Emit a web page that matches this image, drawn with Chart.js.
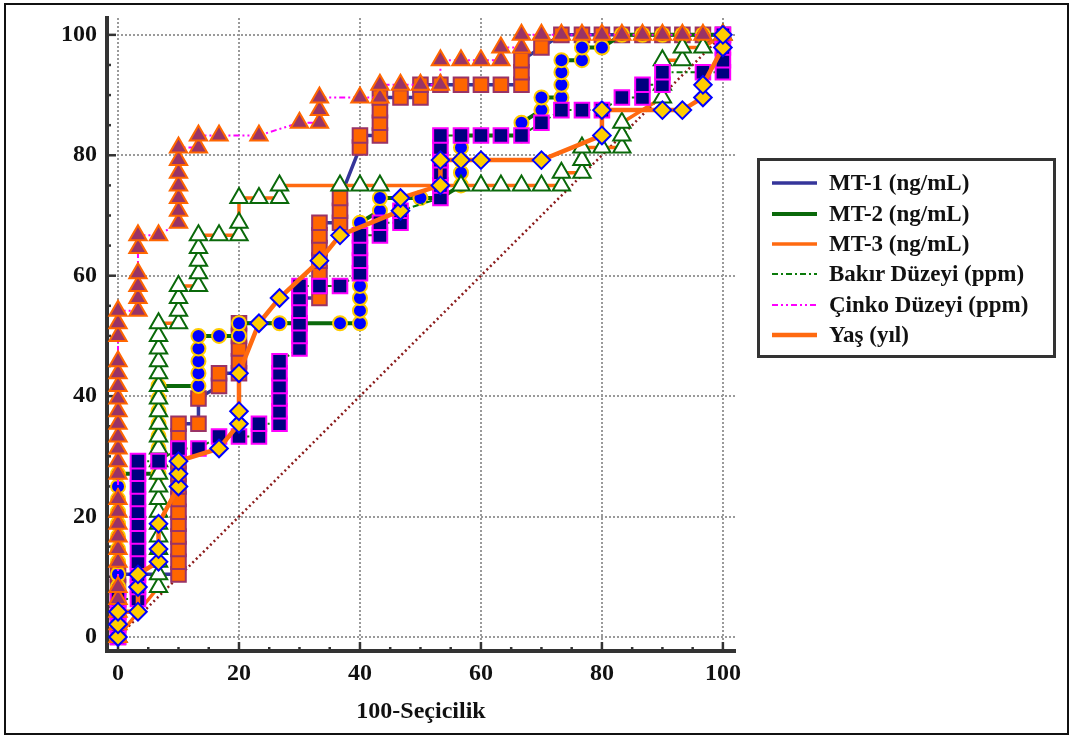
<!DOCTYPE html>
<html>
<head>
<meta charset="utf-8">
<script src="https://cdn.jsdelivr.net/npm/chart.js@4.4.1/dist/chart.umd.min.js"></script>
<style>
  body { margin: 0; background: #fff; }
  #cadre { position: relative; width: 1073px; height: 738px; }
  #bord { position: absolute; left: 4px; top: 3px; width: 1065px; height: 732px; border: 2px solid #111; box-sizing: border-box; pointer-events: none; }
  #roc { position: absolute; left: 0; top: 0; }
  #legende { position: absolute; left: 757px; top: 158px; width: 299px; height: 200px; border: 3px solid #333; box-sizing: border-box; padding-top: 7px; }
  .ligne { height: 30.4px; display: flex; align-items: center; font: bold 23px "Liberation Serif", serif; color: #111; }
  .ligne svg { margin-left: 12px; margin-right: 12px; }
</style>
</head>
<body>
<div id="cadre">
  <canvas id="roc" width="1073" height="738"></canvas>
  <div id="legende"></div>
  <div id="bord"></div>
</div>
<script>
// libellés
const noms = ["MT-1 (ng/mL)", "MT-2 (ng/mL)", "MT-3 (ng/mL)", "Bakır Düzeyi (ppm)", "Çinko Düzeyi (ppm)", "Yaş (yıl)"]
const graduation = [0, 5, 10, 15, 20, 25, 30, 35, 40, 45, 50, 55, 60, 65, 70, 75, 80, 85, 90, 95, 100]

// MT-1
const mt1X = [0, 0, 0, 0, 0, 0, 10, 10, 10, 10, 10, 10, 10, 10, 10, 10, 10, 10, 10, 13.3, 13.3, 16.7, 16.7, 20, 20, 20, 20, 20, 30, 30, 33.3, 33.3, 33.3, 33.3, 33.3, 33.3, 33.3, 36.7, 36.7, 36.7, 40, 40, 43.3, 43.3, 43.3, 43.3, 46.7, 50, 50, 53.3, 56.7, 60, 63.3, 66.7, 66.7, 66.7, 70, 73.3, 76.7, 80, 83.3, 86.7, 90, 93.3, 96.7, 100]
const mt1Y = [0, 2.1, 4.2, 6.3, 8.3, 10.4, 10.4, 12.5, 14.6, 16.7, 18.8, 20.8, 22.9, 25, 27.1, 29.2, 31.3, 33.3, 35.4, 35.4, 39.6, 41.7, 43.8, 43.8, 45.8, 47.9, 50, 52.1, 52.1, 56.3, 56.3, 58.3, 60.4, 62.5, 64.6, 66.7, 68.8, 68.8, 70.8, 72.9, 81.3, 83.3, 83.3, 85.4, 87.5, 89.6, 89.6, 89.6, 91.7, 91.7, 91.7, 91.7, 91.7, 91.7, 93.8, 95.8, 97.9, 100, 100, 100, 100, 100, 100, 100, 100, 100]

// MT-2
const mt2X = [0, 0, 0, 0, 0, 0, 0, 0, 0, 0, 0, 0, 6.7, 6.7, 6.7, 6.7, 6.7, 6.7, 6.7, 6.7, 13.3, 13.3, 13.3, 13.3, 13.3, 16.7, 20, 20, 26.7, 36.7, 40, 40, 40, 40, 40, 40, 40, 40, 40, 43.3, 43.3, 50, 53.3, 56.7, 56.7, 56.7, 56.7, 56.7, 66.7, 66.7, 70, 70, 73.3, 73.3, 73.3, 73.3, 76.7, 76.7, 80, 83.3, 86.7, 90, 93.3, 96.7, 100]
const mt2Y = [0, 4.2, 8.3, 10.4, 12.5, 14.6, 16.7, 18.8, 20.8, 22.9, 25, 27.1, 27.1, 29.2, 31.3, 33.3, 35.4, 37.5, 39.6, 41.7, 41.7, 43.8, 45.8, 47.9, 50, 50, 50, 52.1, 52.1, 52.1, 52.1, 54.2, 56.3, 58.3, 60.4, 62.5, 64.6, 66.7, 68.8, 70.8, 72.9, 72.9, 72.9, 75, 77.1, 79.2, 81.3, 83.3, 83.3, 85.4, 87.5, 89.6, 89.6, 91.7, 93.8, 95.8, 95.8, 97.9, 97.9, 100, 100, 100, 100, 100, 100]

// MT-3
const mt3X = [0, 6.7, 6.7, 6.7, 6.7, 6.7, 6.7, 6.7, 6.7, 6.7, 6.7, 6.7, 6.7, 6.7, 6.7, 6.7, 6.7, 6.7, 6.7, 6.7, 6.7, 6.7, 6.7, 10, 10, 10, 10, 13.3, 13.3, 13.3, 13.3, 13.3, 16.7, 20, 20, 20, 23.3, 26.7, 26.7, 36.7, 40, 43.3, 56.7, 60, 63.3, 66.7, 70, 73.3, 73.3, 76.7, 76.7, 76.7, 80, 83.3, 83.3, 83.3, 90, 90, 90, 93.3, 93.3, 96.7, 100]
const mt3Y = [0, 8.3, 10.4, 12.5, 14.6, 16.7, 18.8, 20.8, 22.9, 25, 27.1, 29.2, 31.3, 33.3, 35.4, 37.5, 39.6, 41.7, 43.8, 45.8, 47.9, 50, 52.1, 52.1, 54.2, 56.3, 58.3, 58.3, 60.4, 62.5, 64.6, 66.7, 66.7, 66.7, 68.8, 72.9, 72.9, 72.9, 75, 75, 75, 75, 75, 75, 75, 75, 75, 75, 77.1, 77.1, 79.2, 81.3, 81.3, 81.3, 83.3, 85.4, 89.6, 91.7, 95.8, 95.8, 97.9, 97.9, 100]

// Bakır Düzeyi
const bakirX = [0, 0, 0, 0, 3.3, 3.3, 3.3, 3.3, 3.3, 3.3, 3.3, 3.3, 3.3, 3.3, 3.3, 3.3, 6.7, 10, 13.3, 16.7, 20, 23.3, 23.3, 26.7, 26.7, 26.7, 26.7, 26.7, 26.7, 30, 30, 30, 30, 30, 30, 33.3, 36.7, 40, 40, 40, 40, 43.3, 43.3, 46.7, 46.7, 53.3, 53.3, 53.3, 53.3, 53.3, 53.3, 56.7, 60, 63.3, 66.7, 70, 73.3, 76.7, 80, 83.3, 86.7, 86.7, 90, 90, 96.7, 100, 100, 100, 100]
const bakirY = [0, 2.1, 4.2, 6.3, 6.3, 8.3, 10.4, 12.5, 14.6, 16.7, 18.8, 20.8, 22.9, 25, 27.1, 29.2, 29.2, 31.3, 31.3, 33.3, 33.3, 33.3, 35.4, 35.4, 37.5, 39.6, 41.7, 43.8, 45.8, 47.9, 50, 52.1, 54.2, 56.3, 58.3, 58.3, 58.3, 60.4, 62.5, 64.6, 66.7, 66.7, 68.8, 68.8, 70.8, 72.9, 75, 77.1, 79.2, 81.3, 83.3, 83.3, 83.3, 83.3, 83.3, 85.4, 87.5, 87.5, 87.5, 89.6, 89.6, 91.7, 91.7, 93.8, 93.8, 93.8, 95.8, 97.9, 100]

// Çinko Düzeyi
const cinkoX = [0, 0, 0, 0, 0, 0, 0, 0, 0, 0, 0, 0, 0, 0, 0, 0, 0, 0, 0, 0, 0, 0, 0, 0, 3.3, 3.3, 3.3, 3.3, 3.3, 3.3, 6.7, 10, 10, 10, 10, 10, 10, 10, 13.3, 13.3, 16.7, 23.3, 30, 33.3, 33.3, 33.3, 40, 43.3, 43.3, 46.7, 50, 53.3, 53.3, 56.7, 60, 63.3, 63.3, 66.7, 66.7, 70, 73.3, 76.7, 80, 83.3, 86.7, 90, 93.3, 96.7, 100]
const cinkoY = [0, 2.1, 4.2, 6.3, 8.3, 12.5, 14.6, 16.7, 18.8, 20.8, 22.9, 27.1, 29.2, 31.3, 33.3, 35.4, 37.5, 39.6, 41.7, 43.8, 45.8, 50, 52.1, 54.2, 54.2, 56.3, 58.3, 60.4, 64.6, 66.7, 66.7, 68.8, 70.8, 72.9, 75, 77.1, 79.2, 81.3, 81.3, 83.3, 83.3, 83.3, 85.4, 85.4, 87.5, 89.6, 89.6, 89.6, 91.7, 91.7, 91.7, 91.7, 95.8, 95.8, 95.8, 95.8, 97.9, 97.9, 100, 100, 100, 100, 100, 100, 100, 100, 100, 100, 100]

// Yaş
const yasX = [0, 0, 0, 3.3, 3.3, 3.3, 6.7, 6.7, 6.7, 10, 10, 10, 16.7, 20, 20, 20, 23.3, 26.7, 33.3, 36.7, 46.7, 46.7, 53.3, 53.3, 56.7, 60, 70, 80, 80, 90, 93.3, 96.7, 96.7, 100, 100]
const yasY = [0, 2.1, 4.2, 4.2, 8.3, 10.4, 12.5, 14.6, 18.8, 25, 27.1, 29.2, 31.3, 35.4, 37.5, 43.8, 52.1, 56.3, 62.5, 66.7, 70.8, 72.9, 75, 79.2, 79.2, 79.2, 79.2, 83.3, 87.5, 87.5, 87.5, 89.6, 91.7, 97.9, 100]

// diagonale de référence
const diagX = [0, 100]
const diagY = [0, 100]

function points(xs, ys) {
    return xs.map((x, i) => ({ x: x, y: ys[i] }))
}

const traits = [
    { couleur: "#35359a", largeur: 3.5, tirets: [] },
    { couleur: "#0a690a", largeur: 4, tirets: [] },
    { couleur: "#ff6a10", largeur: 3.5, tirets: [] },
    { couleur: "#0a7a0a", largeur: 2, tirets: [6, 3, 2, 3] },
    { couleur: "#ff00ff", largeur: 2, tirets: [6, 3, 2, 3, 2, 3] },
    { couleur: "#ff6a10", largeur: 4.5, tirets: [] }
]

function serie(nom, xs, ys, t, forme, rayon, fond, bord, ordre) {
    return {
        label: nom,
        data: points(xs, ys),
        borderColor: t.couleur,
        borderWidth: t.largeur,
        borderDash: t.tirets,
        tension: 0,
        fill: false,
        pointStyle: forme,
        pointRadius: rayon,
        pointBackgroundColor: fond,
        pointBorderColor: bord,
        pointBorderWidth: 2,
        order: ordre,
        clip: false
    }
}

const datasets = [
    {
        label: "diag",
        data: points(diagX, diagY),
        borderColor: "#8b1a1a",
        borderWidth: 2.5,
        borderDash: [2, 3],
        pointRadius: 0,
        order: 9
    },
    serie(noms[0], mt1X, mt1Y, traits[0], "rect", 10.3, "#ff6600", "#993366", 6),
    serie(noms[1], mt2X, mt2Y, traits[1], "circle", 7, "#0000ff", "#ffcc00", 5),
    serie(noms[2], mt3X, mt3Y, traits[2], "triangle", 10, "#ffffff", "#0a690a", 4),
    serie(noms[3], bakirX, bakirY, traits[3], "rect", 10.3, "#000080", "#ff00ff", 3),
    serie(noms[4], cinkoX, cinkoY, traits[4], "triangle", 10, "#993366", "#ff6600", 2),
    serie(noms[5], yasX, yasY, traits[5], "rectRot", 8.8, "#ffcc00", "#0000ff", 1)
]

// petites graduations vers l'intérieur
const graduations = {
    id: "graduations",
    beforeDatasetsDraw(chart) {
        const ctx = chart.ctx
        const sx = chart.scales.x
        const sy = chart.scales.y
        const area = chart.chartArea
        ctx.save()
        ctx.strokeStyle = "#333"
        ctx.lineWidth = 2.5
        for (let v of graduation) {
            const long = v % 20 === 0 ? 9 : 4
            const px = sx.getPixelForValue(v)
            ctx.beginPath()
            ctx.moveTo(px, area.bottom)
            ctx.lineTo(px, area.bottom - long)
            ctx.stroke()
            const py = sy.getPixelForValue(v)
            ctx.beginPath()
            ctx.moveTo(area.left, py)
            ctx.lineTo(area.left + long, py)
            ctx.stroke()
        }
        ctx.restore()
    }
}

const police = { family: "Liberation Serif", weight: "bold", size: 24 }
const grille = {
    drawTicks: false,
    lineWidth: 2,
    color: (c) => (c.tick && c.tick.value % 20 === 0) ? "#9a9a9a" : "rgba(0,0,0,0)"
}
const bordure = { display: true, color: "#333", width: 4, dash: [2, 2] }

new Chart(document.querySelector("#roc"), {
    type: "line",
    data: { datasets: datasets },
    options: {
        responsive: false,
        animation: false,
        devicePixelRatio: 1,
        layout: { padding: { left: 0, top: 18, right: 338, bottom: 0 } },
        plugins: { legend: { display: false }, tooltip: { enabled: false } },
        scales: {
            x: {
                type: "linear",
                min: -1.82,
                max: 102,
                afterBuildTicks: (s) => { s.ticks = graduation.map(v => ({ value: v })) },
                afterFit: (s) => { s.height = 87; s.paddingLeft = 0; s.paddingRight = 0 },
                ticks: {
                    autoSkip: false, maxRotation: 0, padding: 8, font: police, color: "#111",
                    callback: (v) => v % 20 === 0 ? String(v) : ""
                },
                grid: grille,
                border: bordure,
                title: {
                    display: true, text: "100-Seçicilik", color: "#111",
                    font: { family: "Liberation Serif", weight: "bold", size: 24 },
                    padding: { top: 0, bottom: 12 }
                }
            },
            y: {
                type: "linear",
                min: -2.33,
                max: 102.8,
                afterBuildTicks: (s) => { s.ticks = graduation.map(v => ({ value: v })) },
                afterFit: (s) => { s.width = 107; s.paddingTop = 0; s.paddingBottom = 0 },
                ticks: {
                    autoSkip: false, padding: 10, font: police, color: "#111",
                    callback: (v) => v % 20 === 0 ? String(v) : ""
                },
                grid: grille,
                border: bordure
            }
        }
    },
    plugins: [graduations]
})

// légende
const legende = document.querySelector("#legende")
for (let i = 0; i < noms.length; i++) {
    const t = traits[i]
    const ligne = document.createElement("div")
    ligne.className = "ligne"
    const dash = t.tirets.length ? `stroke-dasharray="${t.tirets.join(" ")}"` : ""
    ligne.innerHTML = `<svg width="45" height="8"><line x1="0" y1="4" x2="45" y2="4" stroke="${t.couleur}" stroke-width="${t.largeur}" ${dash}/></svg><span>${noms[i]}</span>`
    legende.appendChild(ligne)
}
</script>
</body>
</html>
